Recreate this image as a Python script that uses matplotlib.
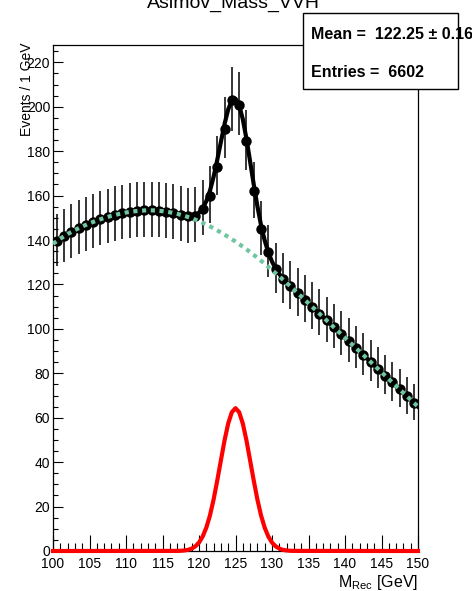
import numpy as np
import matplotlib

matplotlib.use("Agg")
import matplotlib.pyplot as plt
from matplotlib.patches import Rectangle

plt.rcParams["font.family"] = "Liberation Sans"
plt.rcParams["mathtext.fontset"] = "custom"
plt.rcParams["mathtext.rm"] = "Liberation Sans"

# Asimov dataset, 1 GeV bins between 100 and 150 GeV
bin_lo, bin_hi = 100.0, 150.0
data_counts = [
    139.5, 141.7, 143.6, 145.3, 146.8, 148.2, 149.4, 150.4, 151.3, 152.1,
    152.7, 153.1, 153.3, 153.4, 153.2, 152.8, 152.2, 151.4, 150.6, 150.9,
    154.0, 160.0, 173.0, 190.0, 203.0, 201.0, 184.5, 162.0, 145.0, 134.5,
    126.8, 122.4, 119.2, 116.2, 113.1, 110.0, 106.9, 103.8, 100.7, 97.6,
    94.5, 91.4, 88.3, 85.2, 82.1, 79.0, 75.9, 72.8, 69.7, 66.6,
]

# background component of the fit, sampled every 1 GeV
bkg_x = np.arange(100, 151)
bkg_fit = [
    138.3, 140.6, 142.7, 144.5, 146.1, 147.5, 148.8, 149.9, 150.9, 151.7,
    152.4, 152.9, 153.2, 153.4, 153.3, 153.0, 152.5, 151.8, 150.9, 149.8,
    148.5, 147.0, 145.3, 143.4, 141.4, 139.3, 137.0, 134.6, 132.0, 129.3,
    126.5, 123.6, 120.7, 117.7, 114.6, 111.5, 108.4, 105.3, 102.2, 99.1,
    96.0, 92.9, 89.8, 86.7, 83.6, 80.5, 77.4, 74.3, 71.2, 68.1,
    65.0,
]

# signal component (Higgs peak), sampled every 0.5 GeV around 125
sig_x = [100.0] + list(np.arange(117.0, 133.01, 0.5)) + [150.0]
sig_fit = [
    0.0,
    0.05, 0.1, 0.25, 0.5, 1.1, 2.1, 3.8, 6.5, 10.5, 16.0, 23.2, 31.7, 40.8,
    49.8, 57.4, 62.5, 64.3, 62.5, 57.4, 49.8, 40.8, 31.7, 23.2, 16.0, 10.5,
    6.5, 3.8, 2.1, 1.1, 0.5, 0.25, 0.1, 0.05,
    0.0,
]

mean_txt = "Mean =  122.25 \u00b1 0.16"
entries_txt = "Entries =  6602"

W, H, DPI = 472, 591, 100
fig = plt.figure(figsize=(W / DPI, H / DPI), dpi=DPI)
fig.patch.set_facecolor("white")

# frame in pixels: x 53..418, y 45..551
ax = fig.add_axes([53 / W, 1 - 551 / H, (418 - 53) / W, (551 - 45) / H])

counts = np.asarray(data_counts)
centers = np.arange(bin_lo + 0.5, bin_hi, 1.0)
# approximate Poisson interval around sqrt(N)
err_lo = np.sqrt(counts) - 0.5
err_hi = np.sqrt(counts) + 0.5

ax.errorbar(centers, counts, yerr=[err_lo, err_hi], fmt="o", color="black",
            ms=7.5, mew=0, elinewidth=1.1, capsize=3.0, capthick=1.1,
            zorder=2)

# total pdf = background + signal on a common grid
grid = np.union1d(bkg_x, sig_x)
total = np.interp(grid, bkg_x, bkg_fit) + np.interp(grid, sig_x, sig_fit)
ax.plot(grid, total, color="black", lw=3.0, zorder=3)

ax.plot(bkg_x, bkg_fit, color="#6fc6a0", lw=3.0, ls=(0, (1.0, 1.1)),
        dash_capstyle="butt", zorder=4)
ax.plot(sig_x, sig_fit, color="#ff0000", lw=3.0, zorder=4, clip_on=False,
        solid_joinstyle="round")

ax.set_xlim(bin_lo, bin_hi)
ax.set_ylim(0, 227.8)
ax.set_xticks(np.arange(100, 151, 5))
ax.set_xticks(np.arange(100, 151, 1), minor=True)
ax.set_yticks(np.arange(0, 221, 20))
ax.set_yticks(np.arange(0, 226, 5), minor=True)

ax.tick_params(axis="both", which="both", direction="in", width=0.8,
               top=False, right=False, labelsize=10)
ax.tick_params(axis="x", which="major", length=11.5, pad=4.5)
ax.tick_params(axis="x", which="minor", length=5.8)
ax.tick_params(axis="y", which="major", length=7.2, pad=2)
ax.tick_params(axis="y", which="minor", length=3.6)
for sp in ax.spines.values():
    sp.set_linewidth(0.9)

fig.text(27 / W, 1 - 43 / H, "Events / 1 GeV", rotation=90, ha="center",
         va="top", fontsize=10)
fig.text(418 / W, 1 - 583 / H, r"M$_{\rm Rec}$ [GeV]", ha="right",
         va="center", fontsize=11.5)
fig.text(233 / W, 1 - 8 / H, "Asimov_Mass_VVH", ha="center", va="baseline",
         fontsize=14)

# stats box
box = Rectangle((303 / W, 1 - 89 / H), (458 - 303) / W, (89 - 13) / H,
                transform=fig.transFigure, facecolor="white",
                edgecolor="black", lw=1.0, zorder=5)
fig.add_artist(box)
fig.text(311 / W, 1 - 39 / H, mean_txt, ha="left", va="baseline",
         fontsize=11.5, fontweight="bold", zorder=6)
fig.text(311 / W, 1 - 77 / H, entries_txt, ha="left", va="baseline",
         fontsize=11.5, fontweight="bold", zorder=6)

fig.savefig("out.png", dpi=DPI)
